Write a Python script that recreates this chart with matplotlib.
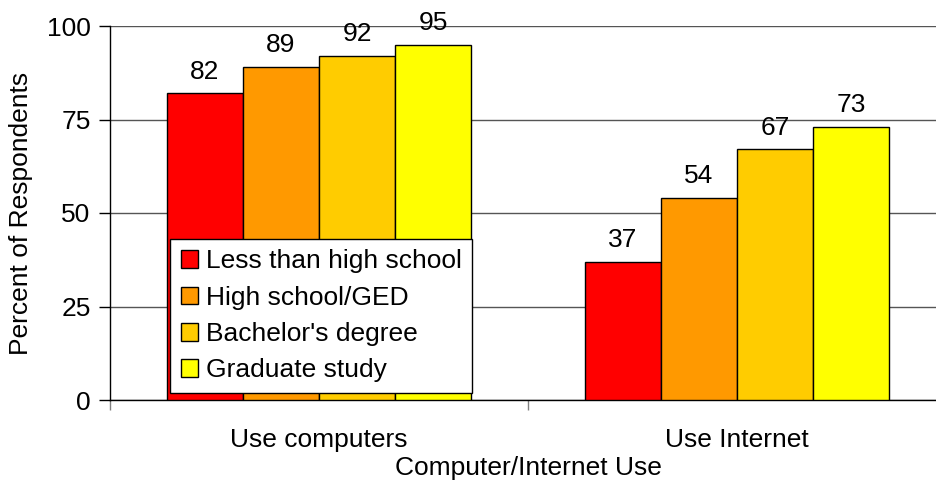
import matplotlib
matplotlib.use("Agg")
import matplotlib.pyplot as plt
import numpy as np

categories = ["Use computers", "Use Internet"]
series_names = ["Less than high school", "High school/GED", "Bachelor's degree", "Graduate study"]
less_than_hs = [82, 37]
high_school = [89, 54]
bachelors = [92, 67]
graduate = [95, 73]
yticks = [0, 25, 50, 75, 100]

series = [less_than_hs, high_school, bachelors, graduate]
colors = ["#FF0000", "#FF9900", "#FFCC00", "#FFFF00"]

plt.rcParams['font.family'] = ['Liberation Sans', 'DejaVu Sans']
FS = 19

fig = plt.figure(figsize=(9.37, 4.87), dpi=100)
ax = fig.add_axes([110/937, 1-400/487, 836/937, 374/487])

x = np.arange(len(categories))
w = 0.182
for i, (vals, name, c) in enumerate(zip(series, series_names, colors)):
    pos = x + (i - 1.5) * w
    bars = ax.bar(pos, vals, width=w, color=c, edgecolor="black", linewidth=1, label=name, zorder=3)
    for b, v in zip(bars, vals):
        ax.annotate(str(v), (b.get_x() + b.get_width()/2, v), xytext=(0, 7),
                    textcoords="offset points", ha="center", va="bottom", fontsize=FS)

ax.set_xlim(-0.5, 1.5)
ax.set_ylim(0, 100)
ax.set_yticks(yticks)
ax.tick_params(axis='y', labelsize=FS, length=8, width=1, pad=6, direction='out')
ax.yaxis.grid(True, color="#555555", linewidth=1, zorder=0)
ax.set_axisbelow(True)

ax.set_xticks(x)
ax.set_xticklabels(categories, fontsize=FS)
ax.tick_params(axis='x', which='major', length=0, pad=20)
ax.set_xticks([-0.5, 0.5, 1.5], minor=True)
ax.tick_params(axis='x', which='minor', length=7, width=1, color="#808080", direction='out')

for s in ["top", "right"]:
    ax.spines[s].set_visible(False)
ax.spines["left"].set_linewidth(1)
ax.spines["bottom"].set_linewidth(1)

ax.set_ylabel("Percent of Respondents", fontsize=FS, labelpad=10)
ax.set_xlabel("Computer/Internet Use", fontsize=FS, labelpad=3)

leg = ax.legend(loc="lower left", bbox_to_anchor=((170-110)/836, (400-393)/374),
                fontsize=FS, frameon=True, fancybox=False, shadow=False, framealpha=1,
                handlelength=0.65, handleheight=0.65, handletextpad=0.3,
                borderpad=0.4, labelspacing=0.47, borderaxespad=0)
leg.get_frame().set_edgecolor("black")
leg.get_frame().set_linewidth(1)
leg.set_zorder(5)

fig.savefig("out.png", dpi=100)
